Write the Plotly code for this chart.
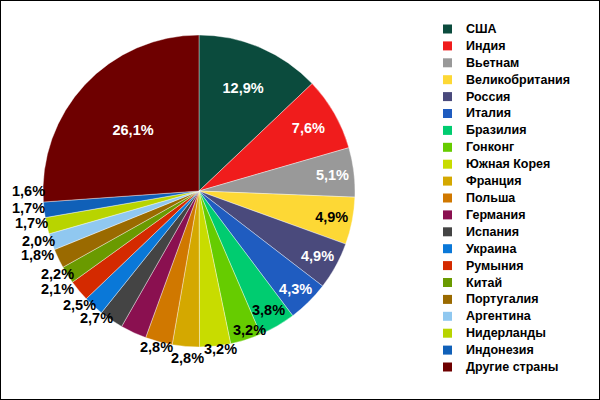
import math
import plotly.graph_objects as go

countries = ["США", "Индия", "Вьетнам", "Великобритания", "Россия", "Италия", "Бразилия",
             "Гонконг", "Южная Корея", "Франция", "Польша", "Германия", "Испания", "Украина",
             "Румыния", "Китай", "Португалия", "Аргентина", "Нидерланды", "Индонезия", "Другие страны"]
shares = [12.9, 7.6, 5.1, 4.9, 4.9, 4.3, 3.8, 3.2, 3.2, 2.8, 2.8, 2.7, 2.5, 2.1, 2.2, 1.8, 2.0,
          1.7, 1.7, 1.6, 26.1]
colors = ["#0b4b3d", "#f01c1c", "#999999", "#fdd835", "#4a4a7c", "#1f5cc0", "#00cc70",
          "#66cc00", "#c8dc00", "#d4a800", "#d07800", "#8a1050", "#444444", "#0a78d8",
          "#d42a00", "#6a9a00", "#9a6a00", "#90c8f0", "#b8d400", "#1060b8", "#6e0000"]

W, H = 600, 400
CX, CY, R = 199, 191, 156          # pie centre and radius in pixels
LEG_X, LEG_Y0, LEG_STEP = 443, 29, 16.9

# outside data-label placement (Excel-style best fit): angular shift (deg) and distance (px)
LABEL_SHIFT = {7: -2.5, 8: -1.8, 9: -0.9, 10: 0.3, 11: 14, 12: 12, 13: 12.6, 14: 9.2,
               15: 10.8, 16: 8.5, 17: 8.2, 18: 7.1, 19: 6.9}
LABEL_DIST = {6: 138, 7: 148, 8: 159.5, 9: 167, 10: 162, 11: 163, 12: 165, 13: 172, 14: 164,
              15: 174, 16: 168, 17: 171, 18: 171, 19: 171}

labels_text = [f"{v:.1f}%".replace(".", ",") for v in shares]
inside_idx = {0, 1, 2, 3, 4, 5, 20}
positions = ["inside" if i in inside_idx else "none" for i in range(len(shares))]
text_colors = ["black" if i == 3 else "white" for i in range(len(shares))]

fig = go.Figure(go.Pie(
    labels=countries, values=shares, text=labels_text, textinfo="text",
    textposition=positions, sort=False, direction="clockwise", rotation=0,
    marker=dict(colors=colors, line=dict(color="rgba(255,255,255,0.55)", width=0.7)),
    textfont=dict(family="Liberation Sans", size=14.5, color=text_colors, weight="bold"),
    insidetextorientation="horizontal",
    domain=dict(x=[(CX - R) / W, (CX + R) / W], y=[1 - (CY + R) / H, 1 - (CY - R) / H]),
    hoverinfo="label+percent", showlegend=False,
))

annotations = []
total = sum(shares)
cum = 0.0
for i, v in enumerate(shares):
    mid = (cum + v / 2) / total * 360.0
    cum += v
    if i in inside_idx:
        continue
    ang = math.radians(mid + LABEL_SHIFT.get(i, 0))
    d = LABEL_DIST[i]
    px, py = CX + d * math.sin(ang), CY - d * math.cos(ang)
    annotations.append(dict(x=px / W, y=1 - py / H, xref="paper", yref="paper",
                            text=labels_text[i], showarrow=False, xanchor="center",
                            yanchor="middle",
                            font=dict(family="Liberation Sans", size=14.5, color="black",
                                      weight="bold")))

shapes = [dict(type="rect", xref="paper", yref="paper", x0=0, y0=0, x1=1, y1=1,
               line=dict(color="black", width=2))]
for i, name in enumerate(countries):
    yc = LEG_Y0 + i * LEG_STEP
    shapes.append(dict(type="rect", xref="paper", yref="paper",
                       x0=LEG_X / W, x1=(LEG_X + 9) / W,
                       y0=1 - (yc + 4.5) / H, y1=1 - (yc - 4.5) / H,
                       fillcolor=colors[i], line=dict(width=0)))
    annotations.append(dict(x=(LEG_X + 21) / W, y=1 - yc / H, xref="paper", yref="paper",
                            text=name, showarrow=False, xanchor="left", yanchor="middle",
                            font=dict(family="Liberation Sans", size=12.5, color="black",
                                      weight="bold")))

fig.update_layout(
    width=W, height=H,
    margin=dict(l=0, r=0, t=0, b=0),
    paper_bgcolor="white",
    font=dict(family="Liberation Sans"),
    showlegend=False,
    shapes=shapes,
    annotations=annotations,
)

fig.write_html("out.html", config={"displayModeBar": False},
               post_script="document.body.style.margin='0';")
